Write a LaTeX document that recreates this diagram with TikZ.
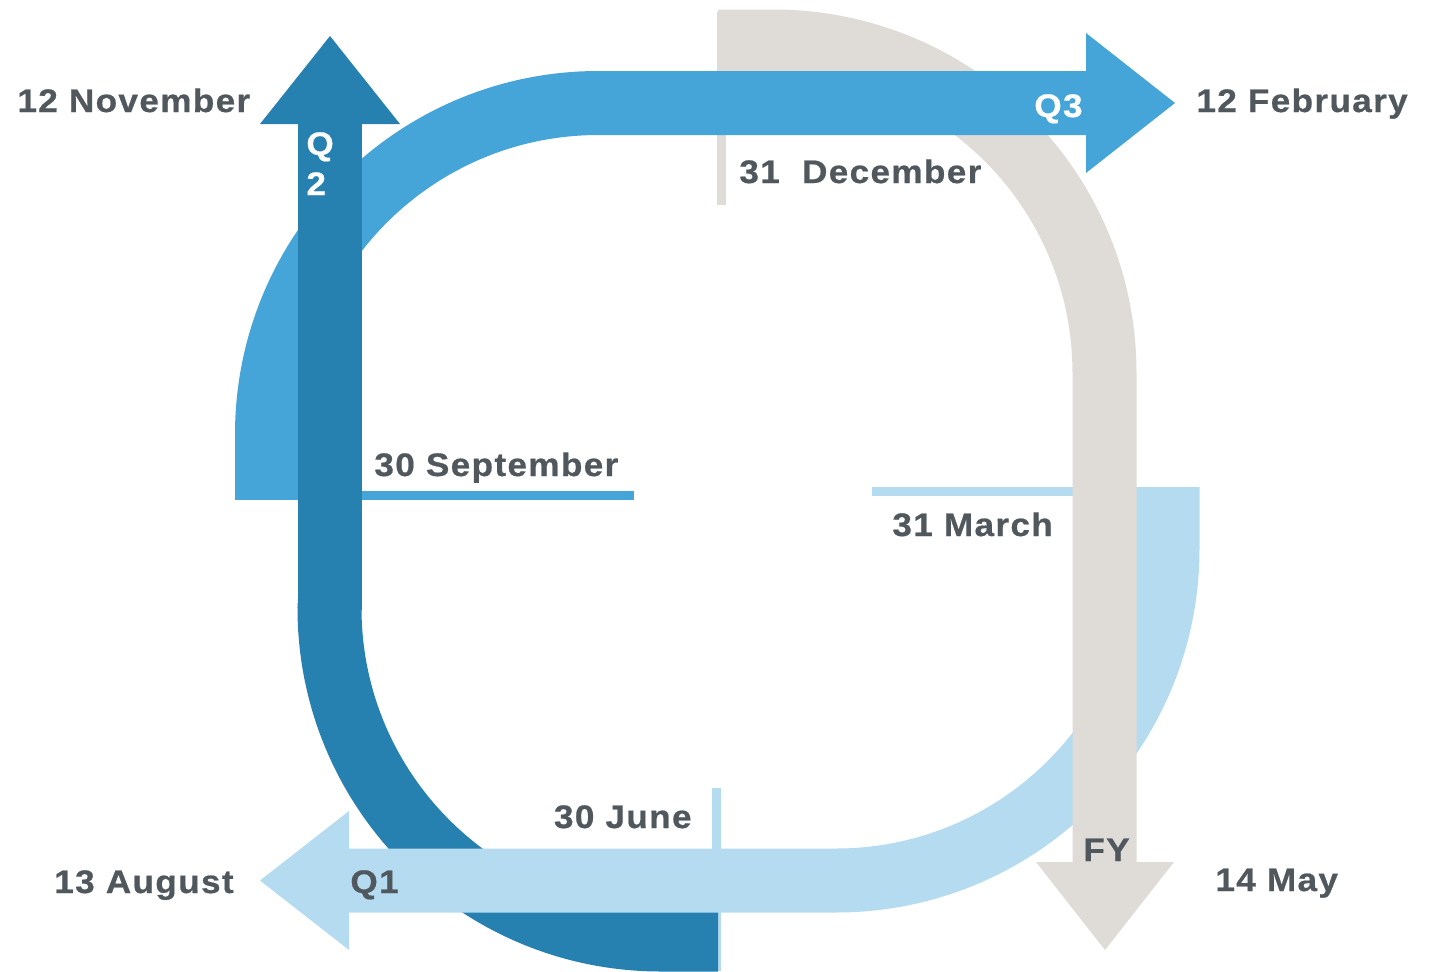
\documentclass[tikz,border=0pt]{standalone}
\usepackage{fontspec}
\setmainfont{Liberation Sans}
\newfontfamily\datefont[LetterSpace=4,FakeStretch=1.08,FakeBold=0.6]{Liberation Sans}
\usetikzlibrary{positioning}
\definecolor{qone}{RGB}{180,219,239}
\definecolor{qtwo}{RGB}{38,128,176}
\definecolor{qthree}{RGB}{69,165,216}
\definecolor{fyear}{RGB}{223,219,215}
\definecolor{datetext}{RGB}{80,88,94}

\begin{document}
\begin{tikzpicture}[x=0.5pt,y=-0.5pt,
  band/.style={line width=32pt},
  marker/.style={line width=4.5pt},
  date/.style={text=datetext,inner sep=0pt,anchor=base west,
    font=\datefont\bfseries\fontsize{16.3}{20}\selectfont},
  qlabel/.style={date,text=white}]
\useasboundingbox (0,0) rectangle (1432,971);
% Q2 lower part and 30 June
\draw[qone,marker] (716.5,788) -- (716.5,971);
\draw[qtwo,band] (718,939.5) -- (661,939.5) arc[start angle=270,end angle=180,radius=165.75pt] -- (330,600);
% Q1
\draw[qone,marker] (872,491.5) -- (1199,491.5);
\draw[qone,band] (1167.5,487) -- (1167.5,549) arc[start angle=0,end angle=-90,radius=165.75pt] -- (349,880.5);
\fill[qone] (349,811) -- (260,880.5) -- (349,950) -- cycle;
% FY
\draw[fyear,marker] (721.5,12) -- (721.5,205);
\draw[fyear,band] (718,41.5) -- (773,41.5) arc[start angle=90,end angle=0,radius=165.75pt] -- (1104.5,862);
\fill[fyear] (1036,862) -- (1105,950) -- (1174,862) -- cycle;
% Q3
\draw[qthree,marker] (235,495) -- (634,495);
\draw[qthree,band] (267,499) -- (267,434.5) arc[start angle=180,end angle=90,radius=165.75pt] -- (1086,103);
\fill[qthree] (1086,33) -- (1175,103) -- (1086,173) -- cycle;
% Q2 upper part
\draw[qtwo,band] (330,610) -- (330,124);
\fill[qtwo] (260,124) -- (330,36) -- (400,124) -- cycle;

\node[date] (nov) at (17,112) {12 November};
\node[qlabel] (qtwolbl) at (306,155) {Q};
\node[qlabel] (qtwonum) at (306,195) {2};
\node[qlabel,anchor=base east] (qthreelbl) at (1083,117) {Q3};
\node[date] (feb) at (1196,112) {12 February};
\node[date] (dec) at (739,183) {31\ \ December};
\node[date] (sep) at (374,476) {30 September};
\node[date] (mar) at (892,536) {31 March};
\node[date,anchor=base east] (jun) at (692,828) {30 June};
\node[date] (qonelbl) at (350,893) {Q1};
\node[date,anchor=base east] (aug) at (234,893) {13 August};
\node[date] (fylbl) at (1083,861) {FY};
\node[date] (may) at (1215,891) {14 May};
\end{tikzpicture}
\end{document}
